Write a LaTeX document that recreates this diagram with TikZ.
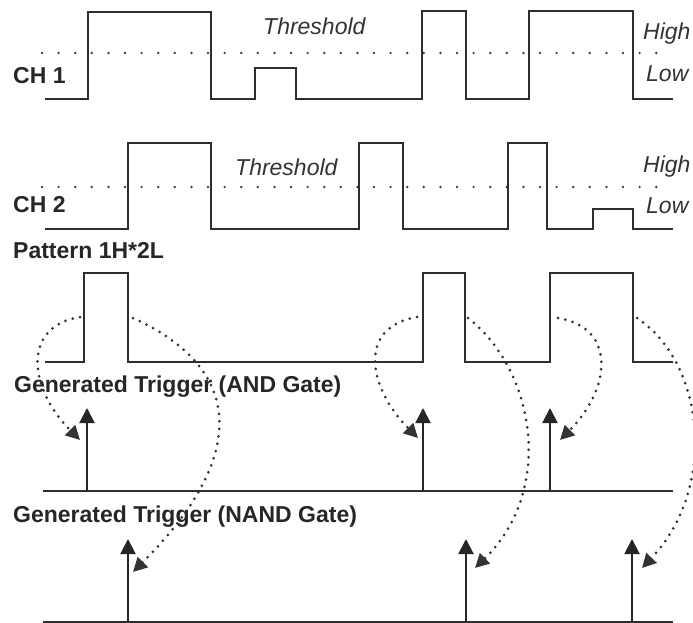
\documentclass[tikz,border=0pt]{standalone}
\usepackage{fontspec}
\setmainfont{Liberation Sans}
\usetikzlibrary{arrows.meta}

\begin{document}
\begin{tikzpicture}[x=1pt, y=-1pt,
  wave/.style={line width=2pt, color=black!82},
  thr/.style={line width=2.7pt, color=black!75, dash pattern=on 0pt off 16.6pt, line cap=round},
  trigline/.style={line width=2pt, color=black!82},
  trig/.style={-{Triangle[length=15pt, width=15pt]}, line width=2pt, color=black!85},
  link/.style={-{Triangle[length=14pt, width=14pt]}, line width=3pt, color=black!80,
               dash pattern=on 0pt off 7.5pt, line cap=round},
  lbl/.style={font=\fontsize{23}{27}\selectfont\bfseries, anchor=base west, inner sep=0pt, text=black!85},
  note/.style={font=\fontsize{23}{27}\selectfont\itshape, anchor=base west, inner sep=0pt, text=black!80},
]
\useasboundingbox (0,0) rectangle (693,623);

% ===== CHANNEL 1 =====
\draw[thr] (42,53) -- (660,53);
\draw[wave] (45,99) -| (88,12) -| (211,99) -| (255,68) -| (296,99) -| (422,11)
  -| (466,99) -| (529,11) -| (633,99) -- (673,99);
\node[lbl] (ch1) at (13,84) {CH 1};
\node[note] (thr1) at (263,35) {Threshold};
\node[note] (hi1) at (643,40) {High};
\node[note] (lo1) at (646,82) {Low};

% ===== CHANNEL 2 =====
\draw[thr] (42,187) -- (660,187);
\draw[wave] (45,229) -| (128,143) -| (211,229) -| (359,143) -| (403,229) -| (508,143)
  -| (547,229) -| (593,209) -| (633,229) -- (673,229);
\node[lbl] (ch2) at (13,212) {CH 2};
\node[note] (thr2) at (235,175) {Threshold};
\node[note] (hi2) at (643,172) {High};
\node[note] (lo2) at (646,213) {Low};

% ===== PATTERN =====
\node[lbl] (pat) at (13,258) {Pattern 1H*2L};
\draw[wave] (45,362) -| (84,273) -| (128,362) -| (423,273) -| (465,362)
  -| (550,273) -| (633,362) -- (673,362);

% edge points where the dotted links start
\coordinate (r1) at (80,317);
\coordinate (r2) at (417,317);
\coordinate (r3) at (558,318);
\coordinate (f1) at (133,318);
\coordinate (f2) at (468,318);
\coordinate (f3) at (637,318);

% ===== AND TRIGGERS =====
\node[lbl] (andlbl) at (14,392) {Generated Trigger (AND Gate)};
\draw[trigline] (43,491) -- (673,491);
\coordinate (a1b) at (87,491);  \coordinate (a1t) at (87,408);
\coordinate (a2b) at (423,491); \coordinate (a2t) at (423,408);
\coordinate (a3b) at (550,491); \coordinate (a3t) at (550,408);
\draw[trig] (a1b) -- (a1t);
\draw[trig] (a2b) -- (a2t);
\draw[trig] (a3b) -- (a3t);

% ===== NAND TRIGGERS =====
\node[lbl] (nandlbl) at (13,522) {Generated Trigger (NAND Gate)};
\draw[trigline] (43,622) -- (673,622);
\coordinate (n1b) at (128,622); \coordinate (n1t) at (128,539);
\coordinate (n2b) at (466,622); \coordinate (n2t) at (466,539);
\coordinate (n3b) at (632,622); \coordinate (n3t) at (632,539);
\draw[trig] (n1b) -- (n1t);
\draw[trig] (n2b) -- (n2t);
\draw[trig] (n3b) -- (n3t);

% ===== DOTTED LINKS =====
% rising edges -> AND
\coordinate (a1e) at (80,440);
\coordinate (a2e) at (418,438);
\coordinate (a3e) at (560,440);
\draw[link] (r1) .. controls +(-60,10) and +(-50,-50) .. (a1e);
\draw[link] (r2) .. controls +(-60,10) and +(-50,-50) .. (a2e);
\draw[link] (r3) .. controls +(60,10) and +(50,-50) .. (a3e);
% falling edges -> NAND
\coordinate (n1e) at (133,572);
\coordinate (n2e) at (475,568);
\coordinate (n3e) at (642,568);
\draw[link] (f1) .. controls +(110,50) and +(117,-117) .. (n1e);
\draw[link] (f2) .. controls +(67,52) and +(80,-78) .. (n2e);
\draw[link] (f3) .. controls +(68,45) and +(76,-80) .. (n3e);

\end{tikzpicture}
\end{document}
